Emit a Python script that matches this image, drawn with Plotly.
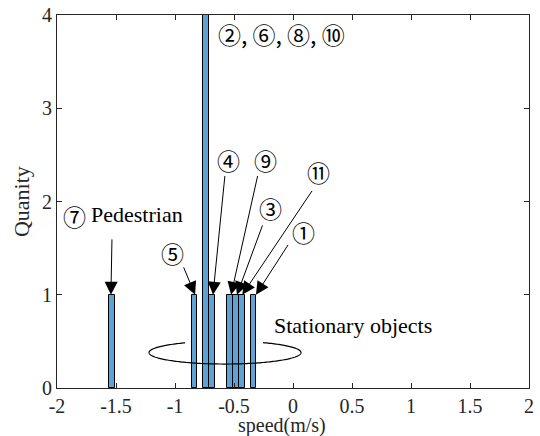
import numpy as np
import plotly.graph_objects as go

# Data
bin_centers = [-1.535, -0.835, -0.735, -0.685, -0.535, -0.485, -0.435, -0.335]
counts = [1, 1, 4, 1, 1, 1, 1, 1]
bin_width = 0.05

x_ticks = [-2, -1.5, -1, -0.5, 0, 0.5, 1, 1.5, 2]
x_ticklabels = ["-2", "-1.5", "-1", "-0.5", "0", "0.5", "1", "1.5", "2"]
y_ticks = [0, 1, 2, 3, 4]
y_ticklabels = ["0", "1", "2", "3", "4"]

# Annotation labels: (text, x, y, anchor)
labels = [
    ("②, ⑥, ⑧, ⑩", -0.655, 3.80, "left"),
    ("④", -0.55, 2.45, "center"),
    ("⑨", -0.23, 2.45, "center"),
    ("⑪", 0.22, 2.32, "center"),
    ("③", -0.19, 1.93, "center"),
    ("①", 0.09, 1.67, "center"),
    ("⑤", -1.025, 1.45, "center"),
    ("⑦", -1.855, 1.84, "center"),
]
# arrows: (tip_x, tip_y, tail_x, tail_y)
arrows = [
    (-0.678, 1.0, -0.576, 2.29),
    (-0.525, 1.0, -0.297, 2.29),
    (-0.43, 1.0, 0.17, 2.13),
    (-0.475, 1.0, -0.254, 1.76),
    (-0.314, 1.0, -0.034, 1.55),
    (-0.83, 1.0, -0.932, 1.31),
    (-1.543, 1.0, -1.534, 1.61),
]

serif = "Liberation Serif, serif"
circ = "Noto Sans CJK JP"
axis_col = "#262626"

fig = go.Figure()
fig.add_trace(go.Bar(
    x=bin_centers, y=counts, width=bin_width,
    marker=dict(color="rgb(95,163,214)", line=dict(color="black", width=1)),
    showlegend=False, hoverinfo="skip",
))

for t, x, y, anc in labels:
    fig.add_annotation(x=x, y=y, text=t, showarrow=False, xanchor=anc, yanchor="middle",
                       font=dict(family=circ, size=23, color="black"))

fig.add_annotation(x=-1.32, y=1.86, text="Pedestrian", showarrow=False,
                   font=dict(family=serif, size=22, color="black"))
fig.add_annotation(x=0.51, y=0.675, text="Stationary objects", showarrow=False,
                   font=dict(family=serif, size=22, color="black"))

for tx, ty, sx, sy in arrows:
    fig.add_annotation(x=tx, y=ty, ax=sx, ay=sy, axref="x", ayref="y", xref="x", yref="y",
                       text="", showarrow=True, arrowhead=2, arrowsize=2.6, arrowwidth=1,
                       arrowcolor="black", standoff=0)

# axis titles
fig.add_annotation(x=0.477, y=-0.1, xref="paper", yref="paper", text="speed(m/s)",
                   showarrow=False, yanchor="middle",
                   font=dict(family=serif, size=20, color=axis_col))
fig.add_annotation(x=-0.075, y=0.5, xref="paper", yref="paper", text="Quanity",
                   showarrow=False, textangle=-90, xanchor="center",
                   font=dict(family=serif, size=22, color=axis_col))

# ellipse with gap at top
cx, cy, rx, ry = -0.576, 0.38, 0.644, 0.123
th = np.radians(np.linspace(121.7, 420, 200))
ex = cx + rx * np.cos(th)
ey = cy + ry * np.sin(th)
path = "M " + " L ".join(f"{a:.4f},{b:.4f}" for a, b in zip(ex, ey))
fig.add_shape(type="path", path=path, line=dict(color="black", width=1.2), layer="above",
              xref="x", yref="y")

fig.update_layout(
    width=540, height=436,
    font=dict(family=serif, size=20, color=axis_col),
    margin=dict(l=57, r=11, t=15, b=48, autoexpand=False),
    plot_bgcolor="white", paper_bgcolor="white",
    bargap=0,
    xaxis=dict(range=[-2, 2], tickvals=x_ticks, ticktext=x_ticklabels, automargin=False,
               ticks="inside", ticklen=5, tickcolor=axis_col, showgrid=False, zeroline=False,
               showline=True, linecolor=axis_col, linewidth=1, mirror="ticks",
               tickfont=dict(family=serif, size=20, color=axis_col)),
    yaxis=dict(range=[0, 4], tickvals=y_ticks, ticktext=y_ticklabels, automargin=False,
               ticks="inside", ticklen=5, tickcolor=axis_col, showgrid=False, zeroline=False,
               showline=True, linecolor=axis_col, linewidth=1, mirror="ticks",
               tickfont=dict(family=serif, size=20, color=axis_col)),
)

fig.write_html("out.html", config={"displayModeBar": False},
               post_script="document.body.style.margin='0';document.body.style.padding='0';")
